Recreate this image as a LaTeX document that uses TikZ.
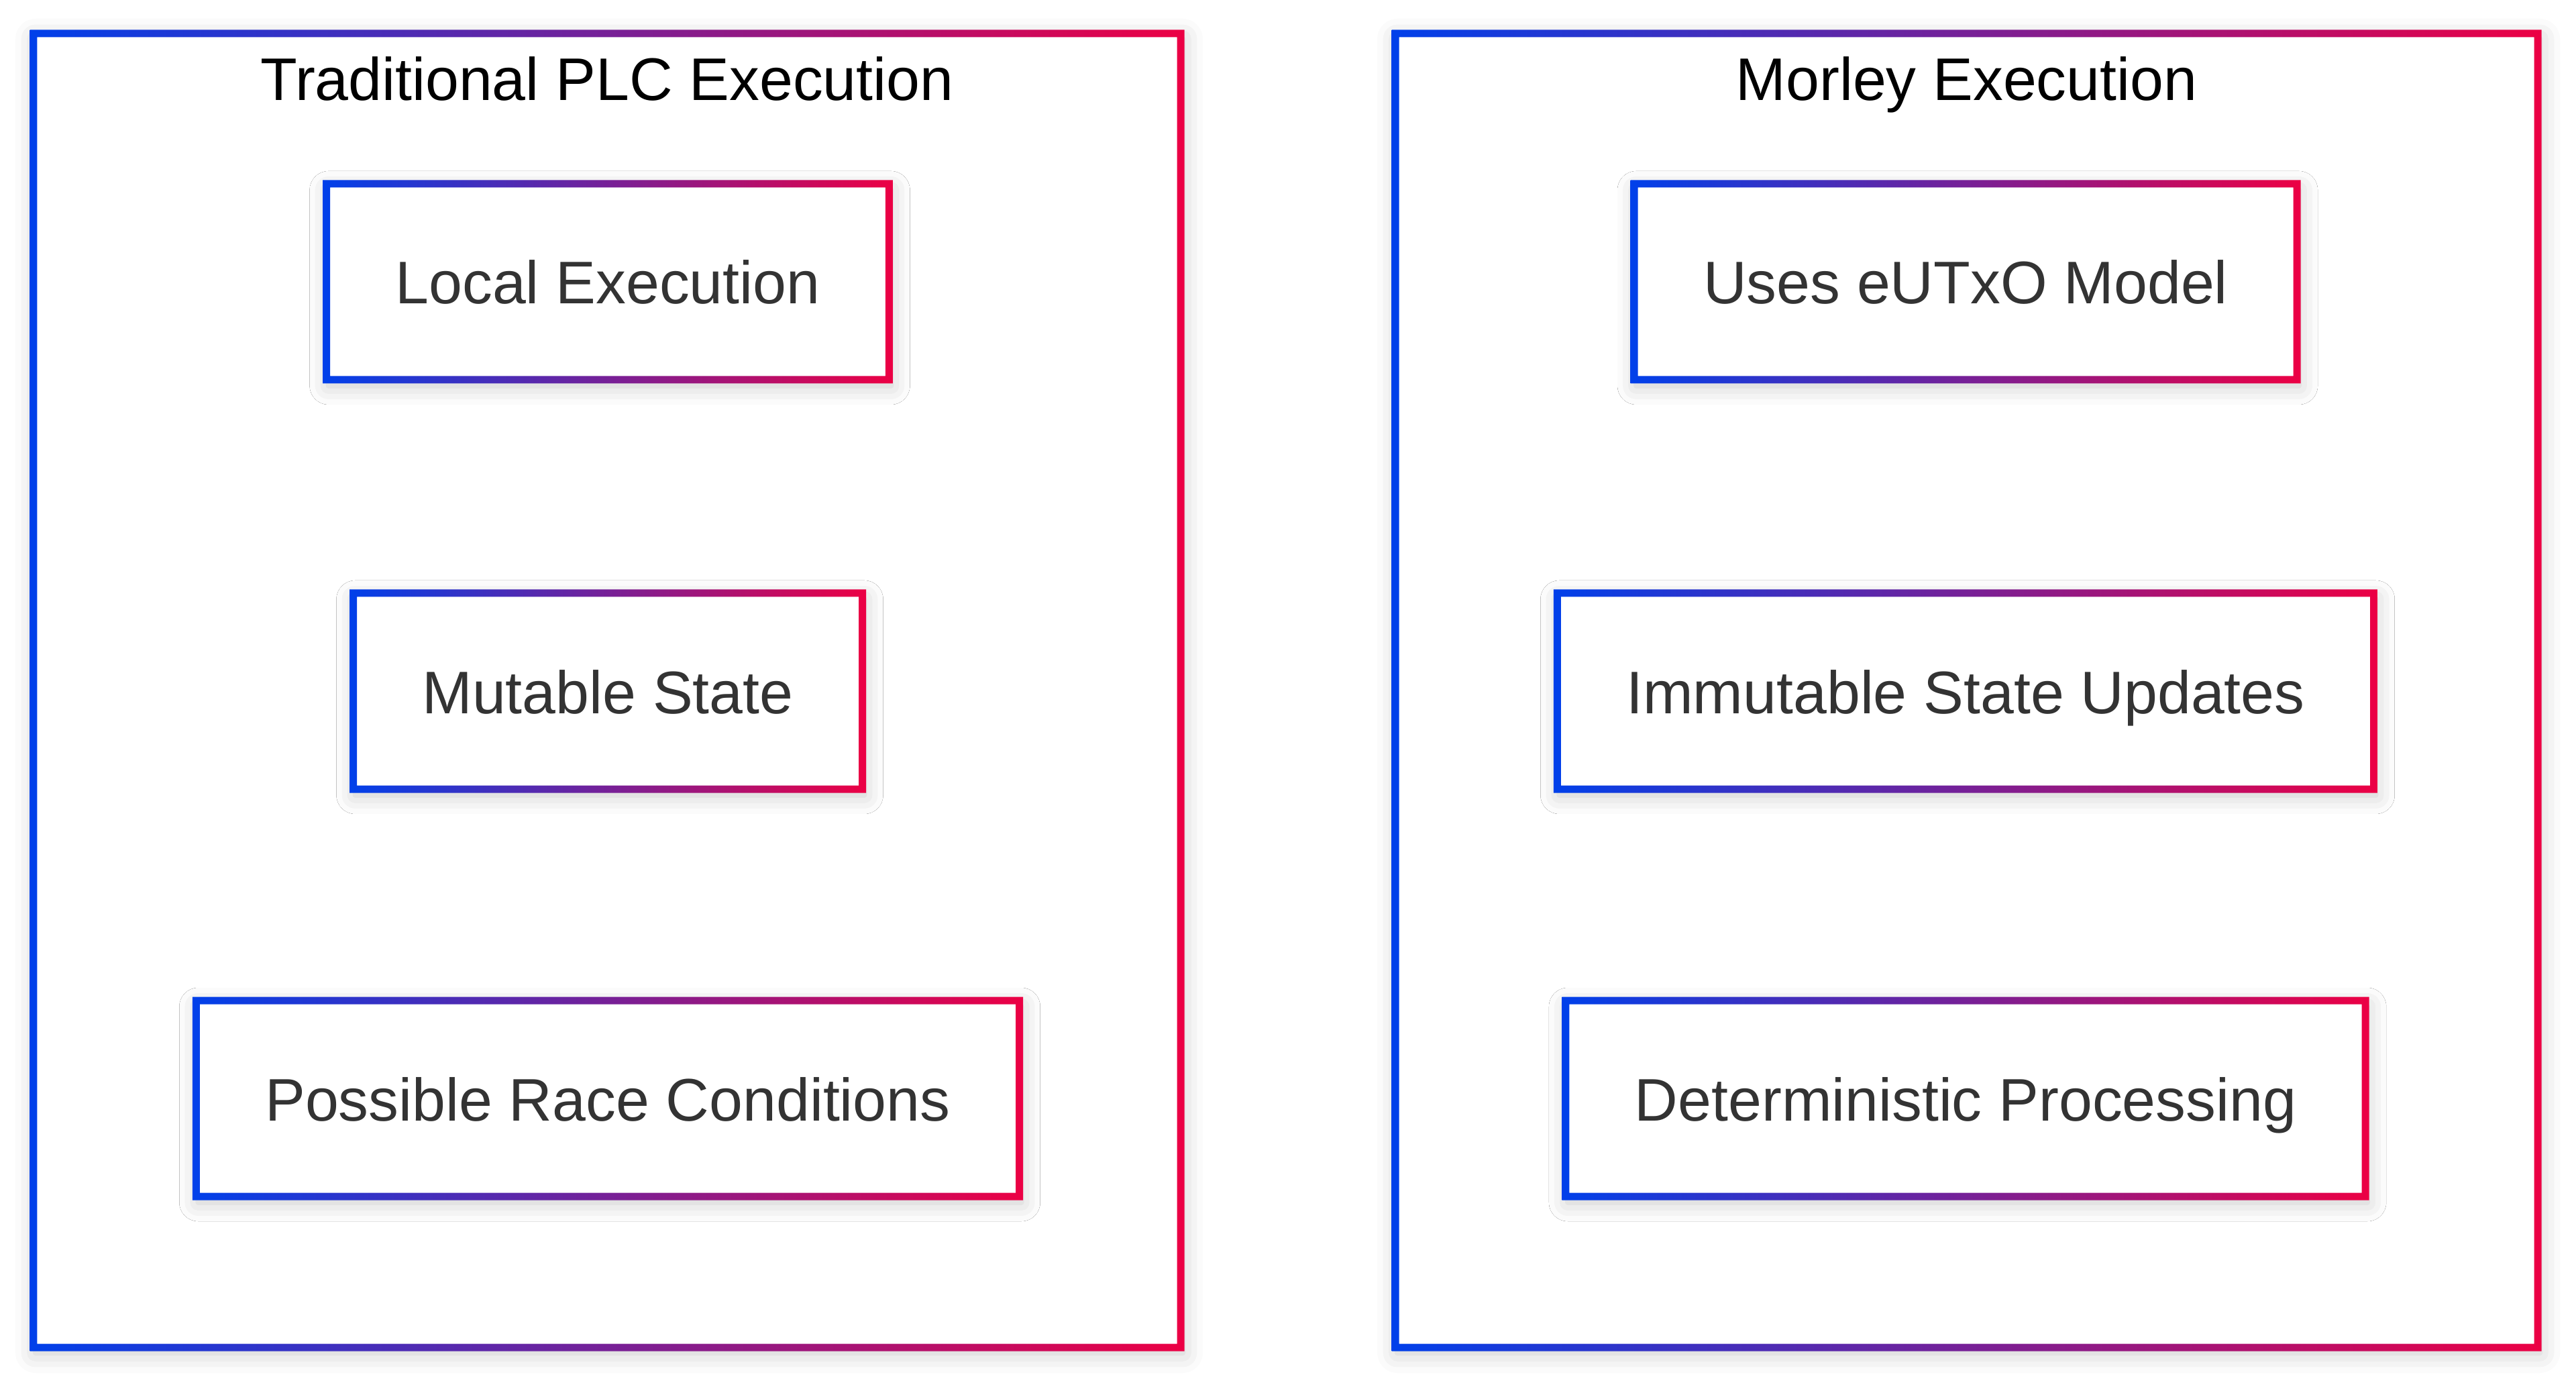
\documentclass[tikz,border=0pt]{standalone}
\usepackage{fontspec}
\setmainfont{Liberation Sans}
\usepackage{xcolor}
\usepackage{tikz}
\usetikzlibrary{positioning, shadows.blur}

\definecolor{fblue}{RGB}{0,64,234}
\definecolor{fred}{RGB}{236,0,68}
\definecolor{txtgray}{RGB}{51,51,51}

%% gradient frame round a named node, drawn on its border line
\newcommand\gframe[1]{%
  \shade[left color=fblue, right color=fred, even odd rule]
    ([shift={(-0.055,-0.055)}]#1.south west) rectangle ([shift={(0.055,0.055)}]#1.north east)
    ([shift={(0.055,0.055)}]#1.south west) rectangle ([shift={(-0.055,-0.055)}]#1.north east);}

\begin{document}
\begin{tikzpicture}[
  font=\fontsize{25.5}{30}\selectfont,
  panel/.style={fill=white, inner sep=0pt, outer sep=0pt,
                minimum height=19.58cm,
                blur shadow={shadow xshift=0.03cm, shadow yshift=-0.08cm,
                             shadow blur radius=0.3cm, shadow opacity=22}},
  box/.style={fill=white, inner xsep=1.03cm, inner ysep=0pt, outer sep=0pt,
              minimum height=2.92cm, text=txtgray,
              text height=0.66cm, text depth=0pt,
              blur shadow={shadow xshift=0.03cm, shadow yshift=-0.09cm,
                           shadow blur radius=0.28cm, shadow opacity=22}},
  ttl/.style={text=black, inner sep=0pt},
]
\useasboundingbox (0,0) rectangle (38.4,20.63);

%% ---- the two panels ----
\node[panel, minimum width=17.10cm] (plc)    at (9.05,10.34)  {};
\node[panel, minimum width=17.03cm] (morley) at (29.315,10.34) {};
\gframe{plc}
\gframe{morley}
\node[ttl, below=0.34cm of plc.north]    (plcT)    {Traditional PLC Execution};
\node[ttl, below=0.34cm of morley.north] (morleyT) {Morley Execution};

%% ---- left column ----
\node[box] (local)   at (9.06,16.43) {Local Execution};
\node[box] (mutable) at (9.06,10.33) {Mutable State};
\node[box] (race)    at (9.06,4.26)  {Possible Race Conditions};

%% ---- right column ----
\node[box] (eutxo)   at (29.30,16.43) {Uses eUTxO Model};
\node[box] (immut)   at (29.30,10.33) {Immutable State Updates};
\node[box] (determ)  at (29.30,4.26)  {Deterministic Processing};

\foreach \n in {local,mutable,race,eutxo,immut,determ}
  {\gframe{\n}}
\end{tikzpicture}
\end{document}
